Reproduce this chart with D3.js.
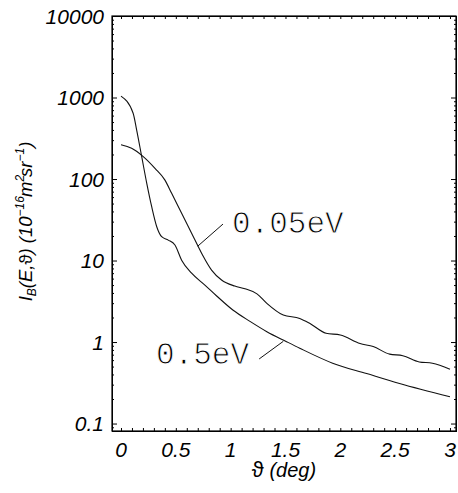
<!DOCTYPE html>
<html>
<head>
<meta charset="utf-8">
<script src="https://cdnjs.cloudflare.com/ajax/libs/d3/7.8.5/d3.min.js"></script>
<style>
  body { margin: 0; background: #fff; }
  svg { display: block; }
  .tick-label { font-family: "Liberation Sans", Arial, sans-serif; font-style: italic; font-size: 21px; fill: #000; }
  .axis-title { font-family: "Liberation Sans", Arial, sans-serif; font-style: italic; font-size: 20px; fill: #000; }
  .curve-label { font-family: "Liberation Mono", "Courier New", monospace; font-size: 31px; fill: #000;
                 stroke: #fff; stroke-width: 0.9px; }
</style>
</head>
<body>
<div id="chart"></div>
<script>
// angle (deg) and intensity for each energy
let angle05 = [0, 0.11, 0.143, 0.189, 0.235, 0.28, 0.326, 0.371, 0.431, 0.492, 0.553, 0.644, 0.765, 0.87, 1.02, 1.18, 1.33, 1.51, 1.63, 1.93, 2.24, 2.54, 3.0];
let value05 = [1040, 646, 399, 188, 88.5, 45.7, 26, 19.6, 17.8, 15.5, 10.1, 7.0, 5.0, 3.7, 2.47, 1.78, 1.34, 1.01, 0.84, 0.55, 0.41, 0.31, 0.213];

let angle005 = [0, 0.097, 0.203, 0.31, 0.401, 0.462, 0.553, 0.644, 0.735, 0.826, 0.917, 1.038, 1.13, 1.24, 1.33, 1.48, 1.63, 1.72, 1.87, 2.0, 2.18, 2.3, 2.45, 2.57, 2.72, 2.84, 3.0];
let value005 = [263, 238, 188, 135, 97, 66.7, 37.9, 21.6, 12.3, 7.64, 5.77, 4.86, 4.5, 3.9, 2.98, 2.14, 1.95, 1.70, 1.28, 1.22, 0.96, 0.88, 0.71, 0.68, 0.57, 0.55, 0.463];

let xTickValues = [0, 0.5, 1, 1.5, 2, 2.5, 3];
let xTickLabels = ["0", "0.5", "1", "1.5", "2", "2.5", "3"];
let yTickValues = [0.1, 1, 10, 100, 1000, 10000];
let yTickLabels = ["0.1", "1", "10", "100", "1000", "10000"];

let curveNames = ["0.5eV", "0.05eV"];

// layout
let W = 458, H = 493;
let margin = {top: 16, right: 2, bottom: 62, left: 112};
let width = W - margin.left - margin.right;
let height = H - margin.top - margin.bottom;

let svg = d3.select("#chart").append("svg")
    .attr("width", W)
    .attr("height", H);

let g = svg.append("g")
    .attr("transform", "translate(" + margin.left + "," + margin.top + ")");

let x = d3.scaleLinear().domain([-0.082, 3.055]).range([0, width]);
let y = d3.scaleLog().domain([0.081, 10000]).range([height, 0]);

// minor tick positions
let xMinor = d3.range(0, 31).map(d => d / 10);
let yMinor = [0.09];
[0.1, 1, 10, 100, 1000].forEach(dec => {
    for (let k = 2; k <= 9; k++) yMinor.push(dec * k);
});

// axes (ticks inward, on all four sides)
g.append("g")
    .attr("transform", "translate(0," + height + ")")
    .call(d3.axisBottom(x).tickValues(xMinor).tickSize(-3).tickFormat(""));
g.append("g")
    .call(d3.axisTop(x).tickValues(xMinor).tickSize(-3).tickFormat(""));
g.append("g")
    .call(d3.axisLeft(y).tickValues(yMinor).tickSize(-2).tickFormat(""));
g.append("g")
    .call(d3.axisLeft(y).tickValues(yTickValues).tickSize(-5).tickFormat(""));
g.append("g")
    .attr("transform", "translate(" + width + ",0)")
    .call(d3.axisRight(y).tickValues(yMinor).tickSize(-2).tickFormat(""));
g.append("g")
    .attr("transform", "translate(" + width + ",0)")
    .call(d3.axisRight(y).tickValues(yTickValues).tickSize(-5).tickFormat(""));

g.selectAll(".domain").attr("stroke", "#000").attr("stroke-width", 1);
g.selectAll(".tick line").attr("stroke", "#000").attr("stroke-width", 1);

// frame
g.append("rect")
    .attr("width", width)
    .attr("height", height)
    .attr("fill", "none")
    .attr("stroke", "#000")
    .attr("stroke-width", 1.2);

// tick labels
g.selectAll(".xlab")
    .data(xTickValues)
    .enter().append("text")
    .attr("class", "tick-label")
    .attr("x", d => x(d))
    .attr("y", height + 26)
    .attr("text-anchor", "middle")
    .text((d, i) => xTickLabels[i]);

g.selectAll(".ylab")
    .data(yTickValues)
    .enter().append("text")
    .attr("class", "tick-label")
    .attr("x", -8)
    .attr("y", d => y(d))
    .attr("dy", "0.36em")
    .attr("text-anchor", "end")
    .text((d, i) => yTickLabels[i]);

// axis titles
let xt = svg.append("text")
    .attr("class", "axis-title")
    .attr("x", margin.left + width / 2)
    .attr("y", 477)
    .attr("text-anchor", "middle");
xt.append("tspan").style("font-style", "normal").attr("font-size", "22px").text("ϑ");
xt.append("tspan").text(" (deg)");

let yt = svg.append("text")
    .attr("class", "axis-title")
    .style("font-size", "18.5px")
    .attr("transform", "translate(32," + (margin.top + height / 2 - 2) + ") rotate(-90)")
    .attr("text-anchor", "middle");
yt.append("tspan").text("I");
yt.append("tspan").attr("font-size", "12px").attr("baseline-shift", "-4").text("B");
yt.append("tspan").text("(E,");
yt.append("tspan").style("font-style", "normal").text("ϑ");
yt.append("tspan").text(") (10");
yt.append("tspan").attr("font-size", "12px").attr("baseline-shift", "8").text("−16");
yt.append("tspan").attr("dx", -1).text("m");
yt.append("tspan").attr("font-size", "12px").attr("baseline-shift", "8").text("2");
yt.append("tspan").attr("dx", -2).text("sr");
yt.append("tspan").attr("font-size", "12px").attr("baseline-shift", "8").text("−1");
yt.append("tspan").text(")");

// curves
let line = d3.line()
    .x(d => x(d[0]))
    .y(d => y(d[1]))
    .curve(d3.curveMonotoneX);

let series = [
    d3.zip(angle05, value05),
    d3.zip(angle005, value005)
];

g.selectAll(".curve")
    .data(series)
    .enter().append("path")
    .attr("class", "curve")
    .attr("d", line)
    .attr("fill", "none")
    .attr("stroke", "#111")
    .attr("stroke-width", 1.1);

// curve labels with leader lines
let labels = [
    {name: curveNames[0], tx: 156, ty: 364, ax: 1.48, ay: 1.02, lx: 1.26, ly: 0.62},
    {name: curveNames[1], tx: 232, ty: 233, ax: 0.7, ay: 15, lx: 0.93, ly: 28}
];

labels.forEach(d => {
    g.append("line")
        .attr("x1", x(d.lx))
        .attr("y1", y(d.ly))
        .attr("x2", x(d.ax))
        .attr("y2", y(d.ay))
        .attr("stroke", "#111")
        .attr("stroke-width", 1);
    svg.append("text")
        .attr("class", "curve-label")
        .attr("x", d.tx)
        .attr("y", d.ty)
        .text(d.name);
});
</script>
</body>
</html>
